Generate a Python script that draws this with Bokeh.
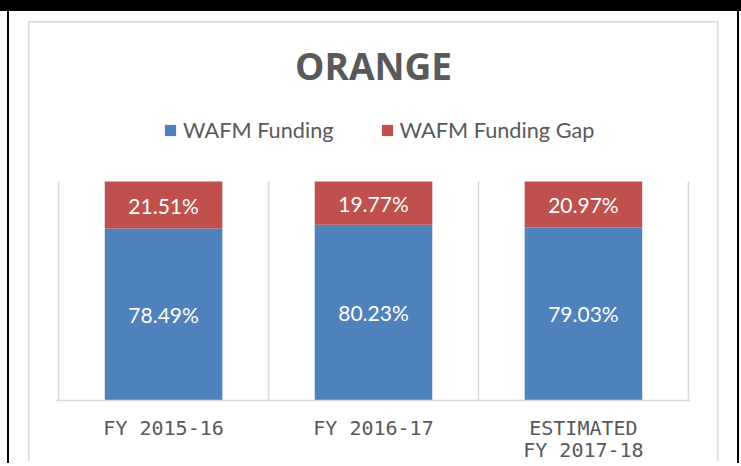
from bokeh.plotting import figure
from bokeh.models import (FactorRange, Range1d, ColumnDataSource, Legend, LegendItem,
                          LabelSet, Title)
from bokeh.core.properties import value
from bokeh.embed import file_html
from bokeh.resources import INLINE

# ---- data ----
categories = ["FY 2015-16", "FY 2016-17", "ESTIMATED\nFY 2017-18"]
funding = [78.49, 80.23, 79.03]
funding_gap = [21.51, 19.77, 20.97]
series_names = ["WAFM Funding", "WAFM Funding Gap"]
series_colors = ["#4F81BD", "#C0504D"]
chart_title = "ORANGE"

source = ColumnDataSource(dict(
    cat=categories,
    funding=funding,
    gap=funding_gap,
    funding_mid=[f / 2 for f in funding],
    gap_mid=[f + g / 2 for f, g in zip(funding, funding_gap)],
    funding_lbl=[f"{v:.2f}%" for v in funding],
    gap_lbl=[f"{v:.2f}%" for v in funding_gap],
))

# category boundaries (synthetic coordinates of the factor range)
boundaries = list(range(len(categories) + 1))

p = figure(
    x_range=FactorRange(*categories, range_padding=0.01,
                        range_padding_units="absolute", factor_padding=0),
    # top part of the frame holds the legend; 100 % sits at the top of the bars
    y_range=Range1d(0, 137),
    width=741, height=466,
    min_border_left=56, min_border_right=51,
    min_border_top=100, min_border_bottom=66,
    output_backend="svg", toolbar_location=None,
    y_axis_location=None,
    title=None,
)
p.background_fill_color = None
p.border_fill_color = None
p.outline_line_color = None
p.grid.visible = False

# decorative page frame drawn as CSS background behind the transparent canvas
p.styles = {
    "background": (
        "linear-gradient(#000,#000) 0px 0px / 741px 11px no-repeat, "
        "linear-gradient(#000,#000) 6.5px 0px / 2px 463px no-repeat, "
        "linear-gradient(#000,#000) 737px 0px / 2px 463px no-repeat, "
        "linear-gradient(#d9d9d9,#d9d9d9) 28px 21px / 690px 1.5px no-repeat, "
        "linear-gradient(#d9d9d9,#d9d9d9) 28px 21px / 1.5px 440px no-repeat, "
        "linear-gradient(#d9d9d9,#d9d9d9) 716.5px 21px / 1.5px 440px no-repeat, "
        "#ffffff"
    )
}

# vertical separators between categories (0 % .. 100 %)
p.segment(x0=boundaries, x1=boundaries, y0=[0] * len(boundaries),
          y1=[100] * len(boundaries), line_color="#d9d9d9", line_width=1.5,
          level="underlay")

# bars
renderers = p.vbar_stack(["funding", "gap"], x="cat", width=0.56,
                         color=series_colors, line_color=None, source=source)

# data labels
for ycol, tcol in [("funding_mid", "funding_lbl"), ("gap_mid", "gap_lbl")]:
    p.add_layout(LabelSet(x="cat", y=ycol, text=tcol, source=source,
                          text_align="center", text_baseline="middle",
                          text_color="white", text_font=value("Lato"),
                          text_font_size="21px"))

# x axis
ax = p.xaxis[0]
ax.axis_line_color = "#d9d9d9"
ax.axis_line_width = 1.5
ax.major_tick_line_color = None
ax.minor_tick_line_color = None
ax.major_tick_out = 0
ax.major_tick_in = 0
ax.major_label_standoff = 15
ax.major_label_text_font = "DejaVu Sans Mono"
ax.major_label_text_font_size = "20px"
ax.major_label_text_color = "#595959"
ax.major_label_text_line_height = 0.95

# legend
legend = Legend(
    items=[LegendItem(label=n, renderers=[r]) for n, r in zip(series_names, renderers)],
    orientation="horizontal", location=(107, 257),
    padding=0, margin=0, spacing=46,
    glyph_width=14, glyph_height=14, label_standoff=6,
    label_text_font="Lato", label_text_font_size="21.7px",
    label_text_color="#595959",
    background_fill_alpha=0, border_line_color=None,
)
p.add_layout(legend, "center")

# chart title
p.add_layout(Title(text=chart_title, align="center", offset=-2,
                   text_font="Open Sans", text_font_style="bold",
                   text_font_size="37px", text_color="#595959",
                   standoff=20), "above")

open("out.html", "w").write(file_html(p, INLINE))
